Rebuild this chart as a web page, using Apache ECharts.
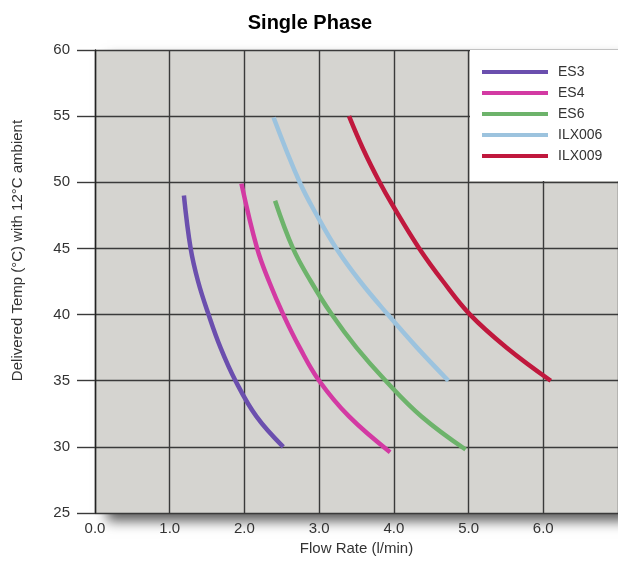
<!DOCTYPE html>
<html><head><meta charset="utf-8">
<script src="https://cdn.jsdelivr.net/npm/echarts@6/dist/echarts.min.js"></script>
<style>html,body{margin:0;padding:0;background:#fff}#c{width:618px;height:562px}</style>
</head><body><div id="c"></div>
<script>
const seriesNames = ['ES3', 'ES4', 'ES6', 'ILX006', 'ILX009'];
const es3Flow = [1.19, 1.28, 1.38, 1.52, 1.68, 1.88, 2.16, 2.52];
const es3Temp = [49.0, 45.0, 42.5, 40.0, 37.5, 35.0, 32.3, 30.0];
const es4Flow = [1.96, 2.17, 2.33, 2.52, 2.74, 3.00, 3.40, 3.95];
const es4Temp = [49.9, 45.0, 42.5, 40.0, 37.5, 35.0, 32.3, 29.6];
const es6Flow = [2.41, 2.65, 2.89, 3.17, 3.50, 3.89, 4.37, 4.96];
const es6Temp = [48.6, 45.0, 42.5, 40.0, 37.5, 35.0, 32.3, 29.8];
const ilx006Flow = [2.39, 2.74, 2.98, 3.23, 3.55, 3.92, 4.31, 4.73];
const ilx006Temp = [54.9, 50.0, 47.4, 45.0, 42.5, 40.0, 37.5, 35.0];
const ilx009Flow = [3.40, 3.59, 3.81, 3.98, 4.34, 4.66, 5.02, 5.51, 6.10];
const ilx009Temp = [55.0, 52.5, 50.0, 48.3, 45.0, 42.5, 40.0, 37.5, 35.0];
const colors = ['#6b4fae', '#d33aa3', '#6db36b', '#9cc3de', '#c0183d'];

const flows = [es3Flow, es4Flow, es6Flow, ilx006Flow, ilx009Flow];
const temps = [es3Temp, es4Temp, es6Temp, ilx006Temp, ilx009Temp];
const pair = (xs, ys) => xs.map((x, i) => [x, ys[i]]);

const font = 'Liberation Sans, Arial, sans-serif';
const chart = echarts.init(document.getElementById('c'));
chart.setOption({
  animation: false,
  backgroundColor: '#ffffff',
  title: {
    text: 'Single Phase', left: 305, top: 8, textAlign: 'center',
    textStyle: { fontSize: 20, fontWeight: 'bold', color: '#000', fontFamily: font }
  },
  grid: {
    left: 95, top: 50, right: 0, bottom: 49, show: true,
    backgroundColor: '#d5d4d0', borderWidth: 0,
    shadowColor: 'rgba(0,0,0,0.65)', shadowBlur: 12, shadowOffsetX: 12, shadowOffsetY: 8
  },
  legend: {
    orient: 'vertical', left: 470, top: 50,
    backgroundColor: '#ffffff', padding: [15, 100, 18, 12],
    itemWidth: 66, itemHeight: 4, itemGap: 7, icon: 'rect',
    textStyle: { fontSize: 14, color: '#333', fontFamily: font, lineHeight: 14, padding: [0, 0, 0, 5] },
    data: seriesNames
  },
  xAxis: {
    type: 'value', min: 0, max: 7, interval: 1,
    name: 'Flow Rate (l/min)', nameLocation: 'middle', nameGap: 28,
    nameTextStyle: { fontSize: 15, color: '#333', fontFamily: font },
    axisLine: { show: false }, axisTick: { show: false },
    axisLabel: { fontSize: 15, color: '#333', fontFamily: font, margin: 8, showMaxLabel: false,
      formatter: v => v.toFixed(1) },
    splitLine: { show: true, lineStyle: { color: '#3a3a3a', width: 1.4 } }
  },
  yAxis: {
    type: 'value', min: 25, max: 60, interval: 5,
    name: 'Delivered Temp (°C) with 12°C ambient', nameLocation: 'middle', nameGap: 70,
    nameTextStyle: { fontSize: 15, color: '#333', fontFamily: font, padding: [0, 0, 0, 62] },
    axisLine: { show: true, lineStyle: { color: '#222', width: 1.4 } },
    axisTick: { show: true, length: 18, lineStyle: { color: '#3a3a3a', width: 1.4 } },
    axisLabel: { fontSize: 15, color: '#333', fontFamily: font, margin: 25 },
    splitLine: { show: true, lineStyle: { color: '#3a3a3a', width: 1.4 } }
  },
  series: seriesNames.map((n, i) => ({
    name: n, type: 'line', smooth: 0.4, symbol: 'none',
    color: colors[i],
    lineStyle: { width: 4.5, color: colors[i], cap: 'butt' },
    data: pair(flows[i], temps[i])
  }))
});
</script></body></html>
